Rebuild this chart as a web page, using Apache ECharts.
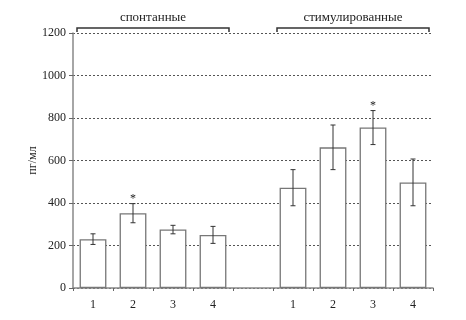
<!DOCTYPE html>
<html><head><meta charset="utf-8">
<script src="https://cdn.jsdelivr.net/npm/echarts@6/dist/echarts.min.js"></script>
<style>html,body{margin:0;padding:0;background:#fff}#c{width:466px;height:320px}</style>
</head><body><div id="c"></div>
<script>
var categories = ['s1','s2','s3','s4','gap','t1','t2','t3','t4'];
var tickLabels = ['1','2','3','4','','1','2','3','4'];
var means = [230, 352, 275, 250, null, 472, 662, 755, 497];
var errors = [25, 45, 20, 40, null, 85, 105, 80, 110];
var significant = [false, true, false, false, false, false, false, true, false];
var groupNames = ['спонтанные', 'стимулированные'];
var groupSpans = [[0, 3], [5, 8]];
var yTicks = [0, 200, 400, 600, 800, 1000, 1200];

var FONT = '"Liberation Serif", "DejaVu Serif", serif';
var chart = echarts.init(document.getElementById('c'));

var barData = means.map(function (v) { return v == null ? '-' : v; });
var errData = [];
means.forEach(function (m, i) {
  if (m != null) errData.push([i, m - errors[i], m + errors[i], significant[i] ? 1 : 0]);
});
var groupData = groupSpans.map(function (s, k) { return [s[0], s[1], yTicks[yTicks.length - 1], groupNames[k]]; });

chart.setOption({
  animation: false,
  grid: { left: 73, right: 33, top: 33, bottom: 32 },
  xAxis: {
    type: 'category',
    data: categories,
    axisLine: { lineStyle: { color: '#888', width: 1.5 } },
    axisTick: { show: true, length: 3, lineStyle: { color: '#666' } },
    axisLabel: {
      color: '#222', fontFamily: FONT, fontSize: 12, margin: 11,
      formatter: function (v, i) { return tickLabels[i]; }
    },
    splitLine: { show: false }
  },
  yAxis: {
    type: 'value',
    min: yTicks[0], max: yTicks[yTicks.length - 1], interval: 200,
    name: 'пг/мл', nameLocation: 'middle', nameGap: 34, nameMoveOverlap: false,
    nameTextStyle: { color: '#222', fontFamily: FONT, fontSize: 12 },
    axisLine: { show: true, lineStyle: { color: '#888', width: 1.5 } },
    axisTick: { show: true, length: 4, lineStyle: { color: '#666' } },
    axisLabel: { color: '#222', fontFamily: FONT, fontSize: 12, margin: 7,
      formatter: function (v) { return String(v); } },
    splitLine: { show: true, lineStyle: { color: '#555', type: [2, 2], width: 1 } }
  },
  series: [
    {
      type: 'bar',
      data: barData,
      barWidth: '67%',
      itemStyle: { color: '#fff', borderColor: '#777', borderWidth: 1.3 },
      z: 2
    },
    {
      type: 'custom',
      data: errData,
      encode: { x: 0, y: [1, 2] },
      z: 3,
      renderItem: function (params, api) {
        var x = api.value(0);
        var lo = api.coord([x, api.value(1)]);
        var hi = api.coord([x, api.value(2)]);
        var cap = 2.5;
        var children = [
          { type: 'line', shape: { x1: lo[0], y1: lo[1], x2: hi[0], y2: hi[1] }, style: { stroke: '#333', lineWidth: 1 } },
          { type: 'line', shape: { x1: lo[0] - cap, y1: lo[1], x2: lo[0] + cap, y2: lo[1] }, style: { stroke: '#333', lineWidth: 1 } },
          { type: 'line', shape: { x1: hi[0] - cap, y1: hi[1], x2: hi[0] + cap, y2: hi[1] }, style: { stroke: '#333', lineWidth: 1 } }
        ];
        if (api.value(3)) {
          children.push({ type: 'text', style: { text: '*', x: hi[0], y: hi[1] - 5, align: 'center', verticalAlign: 'middle', fontSize: 12, fontFamily: FONT, fill: '#222' } });
        }
        return { type: 'group', children: children };
      }
    },
    {
      type: 'custom',
      data: groupData,
      encode: { x: [0, 1], y: 2 },
      clip: false,
      z: 4,
      renderItem: function (params, api) {
        var a = api.coord([api.value(0), api.value(2)]);
        var b = api.coord([api.value(1), api.value(2)]);
        var bw = api.size([1, 0])[0];
        var x1 = a[0] - 0.4 * bw, x2 = b[0] + 0.4 * bw;
        var y = a[1] - 5;
        var st = { stroke: '#333', lineWidth: 1.5, fill: null };
        return {
          type: 'group',
          children: [
            { type: 'polyline', shape: { points: [[x1, y + 4], [x1, y], [x2, y], [x2, y + 4]] }, style: st },
            { type: 'text', style: { text: groupNames[params.dataIndex], x: (x1 + x2) / 2, y: y - 10, align: 'center', verticalAlign: 'middle', fontSize: 13, fontFamily: FONT, fill: '#222' } }
          ]
        };
      }
    }
  ]
});
</script>
</body></html>
